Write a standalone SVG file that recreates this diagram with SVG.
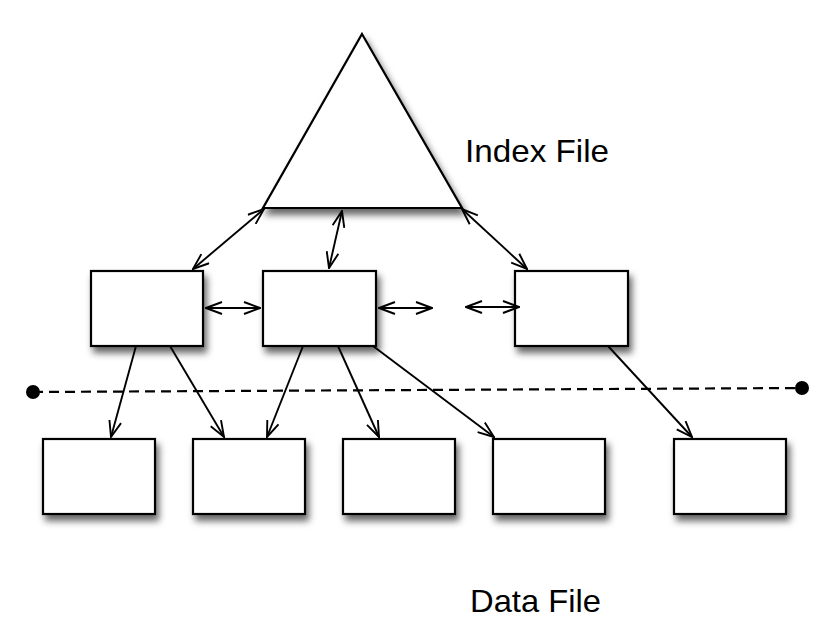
<svg xmlns="http://www.w3.org/2000/svg" width="831" height="641" viewBox="0 0 831 641">
<style>
.node{fill:#fff;stroke:#000;stroke-width:2.2;filter:url(#sh)}
.c{stroke:#000;stroke-width:1.9;fill:none}
.dbl{marker-start:url(#ah);marker-end:url(#ah)}
.one{marker-end:url(#ah)}
.lbl{font-family:"Liberation Sans",Arial,Helvetica,sans-serif;font-size:32px;fill:#000}
</style>
<defs>
<filter id="sh" x="-20%" y="-20%" width="150%" height="160%">
<feDropShadow dx="3" dy="6" stdDeviation="3.5" flood-color="#000" flood-opacity="0.6"/>
</filter>
<marker id="ah" markerUnits="userSpaceOnUse" markerWidth="18" markerHeight="14" viewBox="0 0 18 14" refX="17" refY="7" orient="auto-start-reverse">
<path d="M1,1 L17,7 L1,13" fill="none" stroke="#000" stroke-width="1.9"/>
</marker>
</defs>
<rect width="831" height="641" fill="#fff"/>
<g id="index-triangle"><polygon class="node" points="362,34 462,208 263,208"/></g>
<g id="idx1"><rect class="node" x="91" y="271" width="112" height="75"/></g>
<g id="idx2"><rect class="node" x="263" y="271" width="113" height="75"/></g>
<g id="idx3"><rect class="node" x="515" y="271" width="113" height="75"/></g>
<g id="data1"><rect class="node" x="43" y="439" width="112" height="75"/></g>
<g id="data2"><rect class="node" x="193" y="439" width="112" height="75"/></g>
<g id="data3"><rect class="node" x="343" y="439" width="112" height="75"/></g>
<g id="data4"><rect class="node" x="493" y="439" width="112" height="75"/></g>
<g id="data5"><rect class="node" x="674" y="439" width="112" height="75"/></g>
<g id="divider">
<line x1="33" y1="392" x2="802" y2="388" stroke="#000" stroke-width="2.2" stroke-dasharray="10,6"/>
<circle cx="33" cy="392" r="7" fill="#000"/>
<circle cx="802" cy="388" r="7" fill="#000"/>
</g>
<g id="connectors">
<line class="c dbl" x1="264" y1="209" x2="193" y2="269"/>
<line class="c dbl" x1="342" y1="211" x2="329" y2="268"/>
<line class="c dbl" x1="462" y1="209" x2="527" y2="269"/>
<line class="c dbl" x1="206" y1="308" x2="260" y2="308"/>
<line class="c dbl" x1="379" y1="308" x2="432" y2="308"/>
<line class="c dbl" x1="466" y1="307" x2="519" y2="307"/>
<line class="c one" x1="136" y1="346" x2="111" y2="437"/>
<line class="c one" x1="170" y1="346" x2="224" y2="437"/>
<line class="c one" x1="303" y1="346" x2="267" y2="437"/>
<line class="c one" x1="338" y1="346" x2="379" y2="437"/>
<line class="c one" x1="373" y1="346" x2="494" y2="437"/>
<line class="c one" x1="608" y1="346" x2="692" y2="437"/>
</g>
<g id="labels">
<text class="lbl" x="465" y="162" textLength="144" lengthAdjust="spacingAndGlyphs">Index File</text>
<text class="lbl" x="470" y="612" textLength="131" lengthAdjust="spacingAndGlyphs">Data File</text>
</g>
</svg>
